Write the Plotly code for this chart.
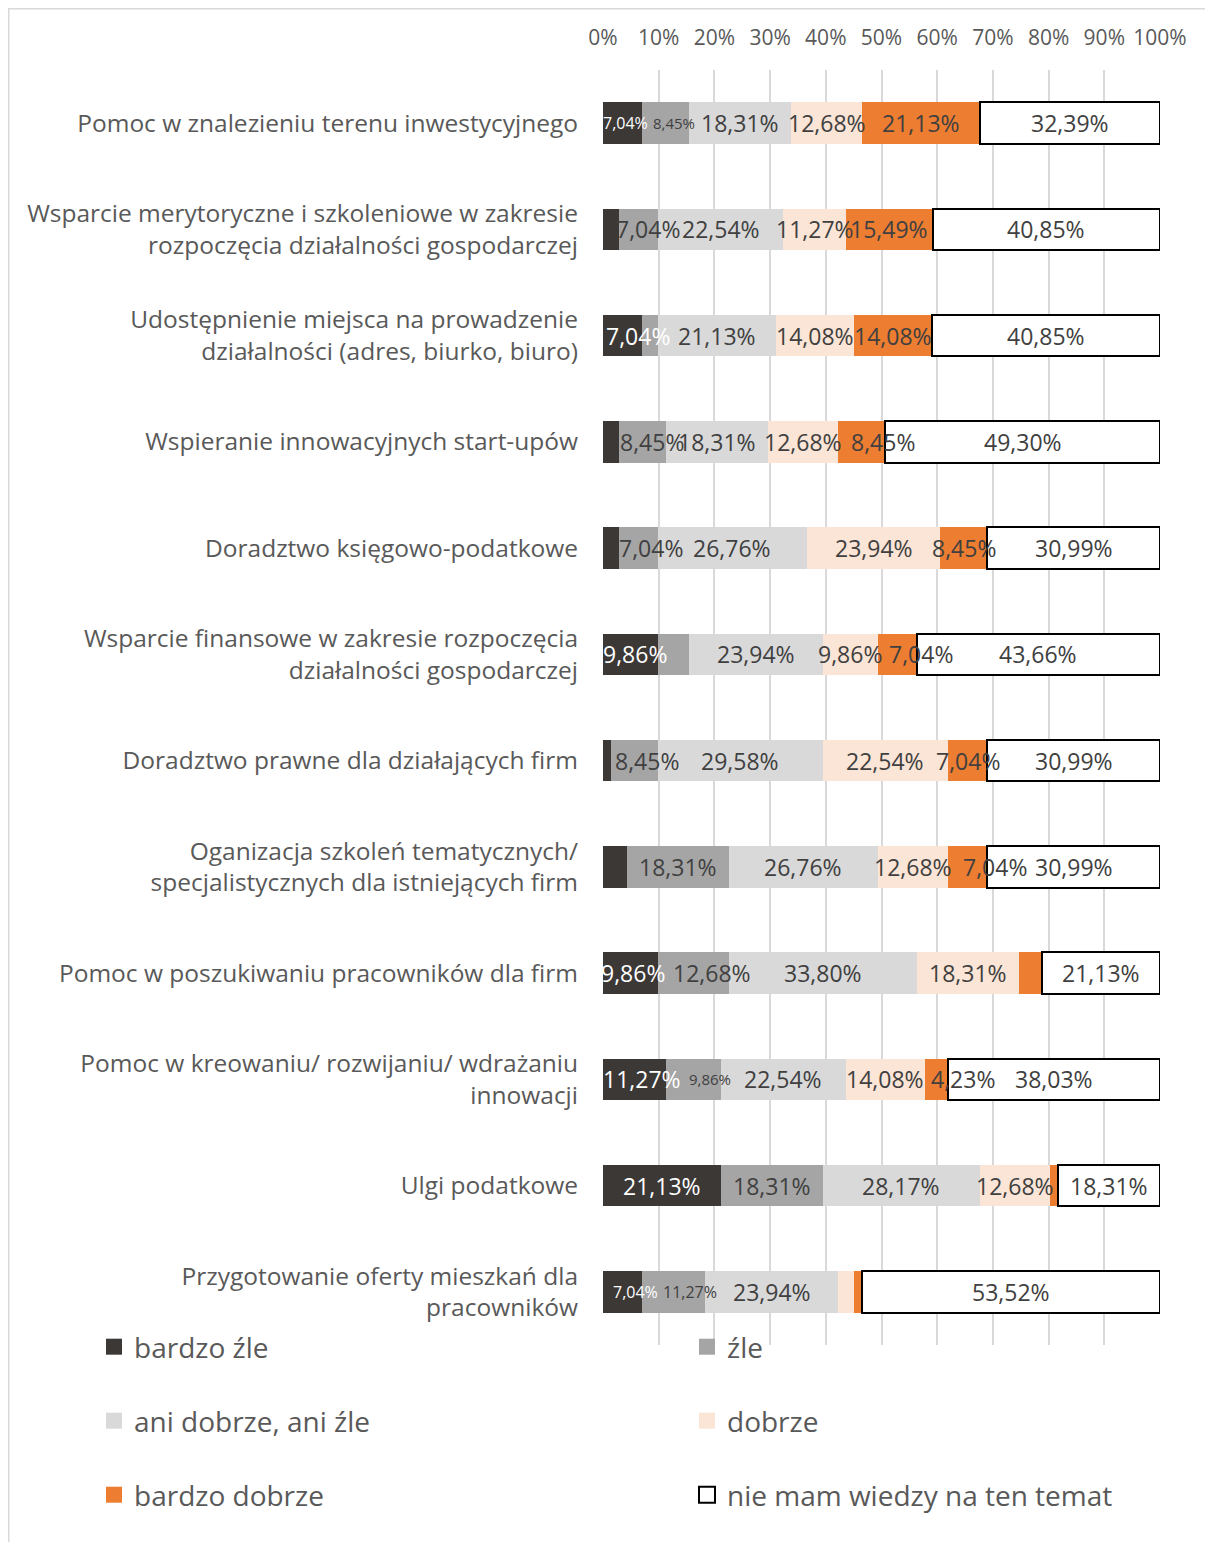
import plotly.graph_objects as go

categories = [
    "Pomoc w znalezieniu terenu inwestycyjnego",
    "Wsparcie merytoryczne i szkoleniowe w zakresie<br>rozpoczęcia działalności gospodarczej",
    "Udostępnienie miejsca na prowadzenie<br>działalności (adres, biurko, biuro)",
    "Wspieranie innowacyjnych start-upów",
    "Doradztwo księgowo-podatkowe",
    "Wsparcie finansowe w zakresie rozpoczęcia<br>działalności gospodarczej",
    "Doradztwo prawne dla działających firm",
    "Oganizacja szkoleń tematycznych/<br>specjalistycznych dla istniejących firm",
    "Pomoc w poszukiwaniu pracowników dla firm",
    "Pomoc w kreowaniu/ rozwijaniu/ wdrażaniu<br>innowacji",
    "Ulgi podatkowe",
    "Przygotowanie oferty mieszkań dla<br>pracowników",
]

series_names = ["bardzo źle", "źle", "ani dobrze, ani źle", "dobrze",
                "bardzo dobrze", "nie mam wiedzy na ten temat"]

bardzo_zle = [7.04, 2.82, 7.04, 2.82, 2.82, 9.86, 1.41, 4.23, 9.86, 11.27, 21.13, 7.04]
zle = [8.45, 7.04, 2.82, 8.45, 7.04, 5.63, 8.45, 18.31, 12.68, 9.86, 18.31, 11.27]
ani_dobrze_ani_zle = [18.31, 22.54, 21.13, 18.31, 26.76, 23.94, 29.58, 26.76, 33.80, 22.54, 28.17, 23.94]
dobrze = [12.68, 11.27, 14.08, 12.68, 23.94, 9.86, 22.54, 12.68, 18.31, 14.08, 12.68, 2.82]
bardzo_dobrze = [21.13, 15.49, 14.08, 8.45, 8.45, 7.04, 7.04, 7.04, 4.23, 4.23, 1.41, 1.41]
nie_mam_wiedzy = [32.39, 40.85, 40.85, 49.30, 30.99, 43.66, 30.99, 30.99, 21.13, 38.03, 18.31, 53.52]

series_values = [bardzo_zle, zle, ani_dobrze_ani_zle, dobrze, bardzo_dobrze, nie_mam_wiedzy]

tick_values = list(range(0, 101, 10))

# (row, series) pairs whose data label is not shown in the original
hidden_labels = {(1, 0), (3, 0), (4, 0), (6, 0), (7, 0), (2, 1), (5, 1),
                 (8, 4), (10, 4), (11, 3), (11, 4)}
# labels drawn with a smaller font in the original
small_labels = {(0, 0): 16, (0, 1): 15, (9, 1): 15, (11, 0): 16, (11, 1): 16}
# horizontal nudges (px) of labels that were moved off-centre in the original
label_nudge = {(0, 0): 3, (0, 1): 8, (1, 1): 10, (2, 0): 15, (3, 1): 10, (3, 4): 21,
               (4, 1): 13, (5, 0): 5, (5, 4): 24, (6, 1): 13, (7, 4): 27,
               (8, 0): 3, (8, 1): 19, (9, 0): 8, (9, 1): 17, (9, 4): 27,
               (11, 0): 13, (11, 1): 16}

colors = ["#3b3836", "#a5a5a5", "#d9d9d9", "#fbe5d6", "#ed7d31", "#ffffff"]
label_colors = ["#ffffff", "#404040", "#404040", "#404040", "#404040", "#404040"]
legend_ids = ["legend", "legend2", "legend3", "legend4", "legend5", "legend6"]

LABEL_SIZE = 23
FONT = "Open Sans"


def fmt(v):
    return f"{v:.2f}".replace(".", ",") + "%"


fig = go.Figure()
annotations = []
cum = [0.0] * len(categories)
for s, (name, vals) in enumerate(zip(series_names, series_values)):
    fig.add_trace(go.Bar(
        y=categories, x=vals, name=name, orientation="h",
        marker=dict(color=colors[s],
                    line=dict(color="#000000" if s == 5 else colors[s],
                              width=2 if s == 5 else 0)),
        width=0.39, showlegend=False, hoverinfo="skip",
    ))
    # legend proxy (larger square symbol than a bar legend gives)
    fig.add_trace(go.Scatter(
        x=[None], y=[None], mode="markers", name=name,
        marker=dict(symbol="square", size=16, color=colors[s],
                    line=dict(color="#000000" if s == 5 else colors[s],
                              width=2 if s == 5 else 0)),
        legend=legend_ids[s], showlegend=True, hoverinfo="skip",
    ))
    for r, v in enumerate(vals):
        if (r, s) not in hidden_labels:
            annotations.append(dict(
                x=cum[r] + v / 2, y=categories[r], xref="x", yref="y",
                text=fmt(v), showarrow=False, xanchor="center", yanchor="middle",
                xshift=label_nudge.get((r, s), 0),
                font=dict(size=small_labels.get((r, s), LABEL_SIZE),
                          color=label_colors[s], family=FONT),
            ))
        cum[r] += v

W, H = 1205, 1534
L, R, T, B = 595, 53, 62, 197
pw, ph = W - L - R, H - T - B


def px_x(x):
    return (x - L) / pw


def px_y(y):
    return (H - B - y) / ph


legend_pos = [(86, 1339), (679, 1339), (86, 1413), (679, 1413), (86, 1487), (679, 1487)]
legends = {}
for lid, (lx, ly) in zip(legend_ids, legend_pos):
    legends[lid] = dict(orientation="v", xanchor="left", yanchor="middle",
                        x=px_x(lx), y=px_y(ly),
                        font=dict(size=28, color="#595959", family=FONT),
                        bgcolor="rgba(0,0,0,0)")

fig.update_layout(
    width=W, height=H,
    margin=dict(l=L, r=R, t=T, b=B, autoexpand=False),
    paper_bgcolor="white", plot_bgcolor="white",
    barmode="stack",
    font=dict(family=FONT, color="#595959"),
    xaxis=dict(range=[0, 100], side="top", tickvals=tick_values,
               ticktext=[f"{v}%" for v in tick_values],
               tickfont=dict(size=21, color="#595959"),
               showgrid=True, gridcolor="#d9d9d9", gridwidth=2,
               zeroline=False, showline=False, ticks="",
               ticklabelstandoff=20, fixedrange=True),
    yaxis=dict(autorange="reversed", tickfont=dict(size=24.5, color="#595959"),
               showgrid=False, showline=False, ticks="",
               ticklabelstandoff=24, fixedrange=True),
    showlegend=True,
    annotations=annotations,
    shapes=[dict(type="rect", xref="paper", yref="paper",
                 x0=px_x(0.75), x1=px_x(W + 10), y0=px_y(H + 10), y1=px_y(0.75),
                 line=dict(color="#d9d9d9", width=1.5), fillcolor="rgba(0,0,0,0)",
                 layer="below")],
    **legends,
)

fig.write_html("out.html")
